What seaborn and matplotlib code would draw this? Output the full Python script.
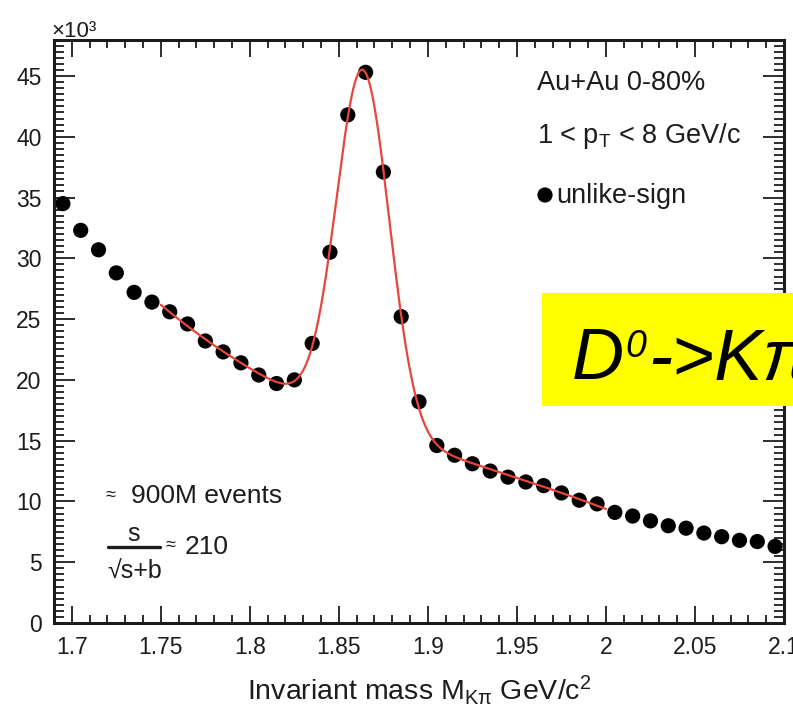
import numpy as np
import pandas as pd
import matplotlib
matplotlib.use("Agg")
import matplotlib.pyplot as plt
import seaborn as sns
from matplotlib.patches import Rectangle
from matplotlib.ticker import MultipleLocator, FuncFormatter

# K-pi invariant-mass bin centres (GeV/c^2)
mass = [1.695, 1.705, 1.715, 1.725, 1.735, 1.745, 1.755, 1.765, 1.775, 1.785,
        1.795, 1.805, 1.815, 1.825, 1.835, 1.845, 1.855, 1.865, 1.875, 1.885,
        1.895, 1.905, 1.915, 1.925, 1.935, 1.945, 1.955, 1.965, 1.975, 1.985,
        1.995, 2.005, 2.015, 2.025, 2.035, 2.045, 2.055, 2.065, 2.075, 2.085,
        2.095]
# unlike-sign pair counts per bin (x10^3)
counts = [34.5, 32.3, 30.7, 28.8, 27.2, 26.4, 25.6, 24.6, 23.2, 22.3,
          21.4, 20.4, 19.7, 20.0, 23.0, 30.5, 41.8, 45.3, 37.1, 25.2,
          18.2, 14.6, 13.8, 13.1, 12.5, 12.0, 11.6, 11.3, 10.7, 10.1,
          9.8, 9.1, 8.8, 8.4, 8.0, 7.8, 7.4, 7.1, 6.8, 6.7,
          6.3]
fit_range = (1.75, 2.0)

x_ticks = [1.7, 1.75, 1.8, 1.85, 1.9, 1.95, 2.0, 2.05, 2.1]
y_ticks = [0, 5, 10, 15, 20, 25, 30, 35, 40, 45]

df = pd.DataFrame({"mass": mass, "counts": counts})

# Gaussian signal + cubic background, fitted to the bins inside the fit range
sel = df[(df.mass > fit_range[0]) & (df.mass < fit_range[1])]
xf, yf = sel.mass.to_numpy(), sel.counts.to_numpy()


def design(x, mu, sig):
    cols = [np.exp(-0.5 * ((x - mu) / sig) ** 2)]
    cols += [(x - 1.875) ** k for k in range(4)]
    return np.column_stack(cols)


best = None
for mu in np.linspace(1.855, 1.875, 81):
    for sig in np.linspace(0.006, 0.02, 71):
        A = design(xf, mu, sig)
        coef = np.linalg.lstsq(A, yf, rcond=None)[0]
        r = np.sum((A @ coef - yf) ** 2)
        if best is None or r < best[0]:
            best = (r, mu, sig, coef)
_, mu_fit, sig_fit, coef_fit = best
x_fit = np.linspace(fit_range[0], fit_range[1], 600)
y_fit = design(x_fit, mu_fit, sig_fit) @ coef_fit
fit_df = pd.DataFrame({"mass": x_fit, "fit": y_fit})

sns.set_theme(style="ticks")
SANS = ["Liberation Sans", "DejaVu Sans"]
plt.rcParams["font.family"] = SANS
plt.rcParams["mathtext.fontset"] = "custom"
plt.rcParams["mathtext.rm"] = "Liberation Sans"
plt.rcParams["mathtext.it"] = "Liberation Sans:italic"
plt.rcParams["mathtext.bf"] = "Liberation Sans:bold"

W, H = 793, 725
INK = "#1c1c1c"
fig = plt.figure(figsize=(W / 100, H / 100), dpi=100)
fig.patch.set_facecolor("white")
ax = fig.add_axes([54 / W, 1 - 623 / H, (784 - 54) / W, (623 - 39.5) / H])

sns.scatterplot(data=df, x="mass", y="counts", ax=ax, s=120, color="black",
                edgecolor="none", linewidth=0, zorder=2, legend=False)
sns.lineplot(data=fit_df, x="mass", y="fit", ax=ax, color="#e8453c",
             linewidth=1.6, zorder=3, legend=False)

ax.set_xlim(1.69, 2.1)
ax.set_ylim(0, 48)
ax.xaxis.set_major_locator(MultipleLocator(0.05))
ax.xaxis.set_minor_locator(MultipleLocator(0.01))
ax.yaxis.set_major_locator(MultipleLocator(5))
ax.yaxis.set_minor_locator(MultipleLocator(0.5))
ax.set_xticks(x_ticks)
ax.set_yticks(y_ticks)
ax.xaxis.set_major_formatter(FuncFormatter(lambda v, p: f"{v:g}"))
ax.yaxis.set_major_formatter(FuncFormatter(lambda v, p: f"{v:g}"))

ax.tick_params(which="both", direction="in", top=True, right=True,
               color=INK, width=1.3, labelcolor=INK, labelsize=16.5)
ax.tick_params(axis="x", which="major", length=12, pad=9)
ax.tick_params(axis="x", which="minor", length=6)
ax.tick_params(axis="y", which="major", length=15, pad=9)
ax.tick_params(axis="y", which="minor", length=7)
for sp in ax.spines.values():
    sp.set_linewidth(2.2)
    sp.set_color(INK)

ax.set_ylabel("")
ax.set_xlabel(r"Invariant mass M$_{\mathregular{K\pi}}$ GeV/c$^{\mathregular{2}}$",
              fontsize=20.5, color=INK)
ax.xaxis.set_label_coords(0.5, (623 - 700) / (623 - 39.5))
ax.xaxis.label.set_verticalalignment("baseline")


def ftext(xp, yp, s, **kw):
    kw.setdefault("va", "baseline")
    kw.setdefault("ha", "left")
    kw.setdefault("color", INK)
    return fig.text(xp / W, 1 - yp / H, s, **kw)


# exponent of the y axis
ftext(51, 37, "×10³", fontsize=16)

# run / selection annotations
ftext(537, 90.5, "Au+Au 0-80%", fontsize=19.5)
ftext(537, 143, r"1 < p$_{\mathregular{T}}$ < 8 GeV/c", fontsize=19.5)
ax.scatter([545 / W], [1 - 195 / H], s=120, color="black", edgecolor="none",
           transform=fig.transFigure, clip_on=False, zorder=5)
ftext(556, 203, "unlike-sign", fontsize=19.5)

ftext(106, 500, "≈", fontsize=13)
ftext(131, 503, "900M events", fontsize=19)
ftext(134, 541, "s", fontsize=18, ha="center")
fig.add_artist(plt.Line2D([108 / W, 160 / W], [1 - 547 / H, 1 - 547 / H],
                          transform=fig.transFigure, color=INK, linewidth=2.4))
ftext(107, 578, "√s+b", fontsize=18)
ftext(166, 550, "≈", fontsize=13)
ftext(185, 554, "210", fontsize=19)

# decay-channel banner
fig.add_artist(Rectangle((541.7 / W, 1 - 406 / H), (W - 541.7) / W + 0.02,
                         (406 - 293.3) / H, transform=fig.transFigure,
                         facecolor="#ffff00", edgecolor="none", zorder=10))
renderer = fig.canvas.get_renderer()
tD = ftext(572, 379, "D", fontsize=52, style="italic", color="black", zorder=11)
x1 = tD.get_window_extent(renderer).x1
t0 = ftext(x1 + 1, 357, "0", fontsize=27, style="italic", color="black",
           zorder=11)
x2 = t0.get_window_extent(renderer).x1
ftext(x2 + 2, 379, "->K\u03c0", fontsize=52, style="italic", color="black",
      zorder=11)

fig.savefig("out.png", dpi=100)
